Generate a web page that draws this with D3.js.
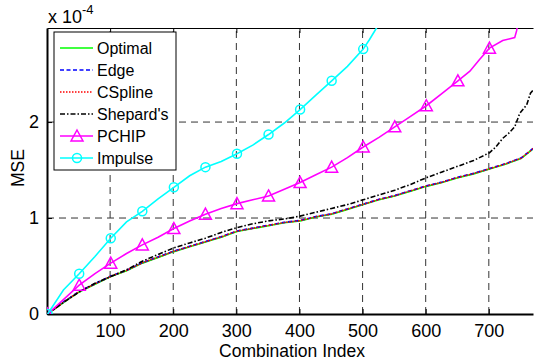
<!DOCTYPE html>
<html>
<head>
<meta charset="utf-8">
<script src="https://cdn.jsdelivr.net/npm/d3@7"></script>
<style>
  body { margin: 0; background: #fff; }
  text { font-family: "Liberation Sans", Arial, sans-serif; fill: #000; }
</style>
</head>
<body>
<div id="chart"></div>
<script>
// data (MSE in units of 1e-4)
const xTicks = [100, 200, 300, 400, 500, 600, 700];
const yTicks = [0, 1, 2];

const baseX = [1, 26, 51, 76, 101, 126, 151, 176, 201, 226, 251, 276, 301, 326, 351, 376, 401,
  426, 451, 476, 501, 526, 551, 576, 601, 626, 651, 676, 701, 726, 751, 770];
const optimalY = [0, 0.12, 0.23, 0.31, 0.39, 0.45, 0.53, 0.59, 0.65, 0.70, 0.75, 0.80, 0.86, 0.89, 0.92, 0.95, 0.97,
  1.01, 1.04, 1.09, 1.14, 1.19, 1.23, 1.28, 1.33, 1.37, 1.42, 1.46, 1.51, 1.56, 1.62, 1.72];
const edgeY = [0, 0.125, 0.235, 0.315, 0.395, 0.455, 0.535, 0.595, 0.655, 0.705, 0.755, 0.805, 0.865, 0.895, 0.925, 0.955, 0.975,
  1.015, 1.045, 1.095, 1.145, 1.195, 1.235, 1.285, 1.335, 1.375, 1.425, 1.465, 1.515, 1.565, 1.625, 1.725];
const csplineY = [0, 0.122, 0.233, 0.313, 0.393, 0.453, 0.533, 0.593, 0.653, 0.703, 0.753, 0.803, 0.863, 0.893, 0.923, 0.953, 0.973,
  1.013, 1.043, 1.093, 1.143, 1.193, 1.233, 1.283, 1.333, 1.373, 1.423, 1.463, 1.513, 1.563, 1.623, 1.723];

const shepardX = [1, 26, 51, 76, 101, 126, 151, 176, 201, 226, 251, 276, 301, 326, 351, 376, 401,
  426, 451, 476, 501, 526, 551, 576, 601, 626, 651, 676, 701, 711, 722, 731, 741, 749, 760, 766, 770];
const shepardY = [0, 0.12, 0.23, 0.32, 0.39, 0.46, 0.55, 0.62, 0.69, 0.74, 0.79, 0.85, 0.90, 0.94, 0.97, 0.99, 1.02,
  1.06, 1.10, 1.14, 1.19, 1.24, 1.29, 1.35, 1.42, 1.48, 1.54, 1.60, 1.68, 1.74, 1.83, 1.88, 1.95, 2.09, 2.18, 2.30, 2.33];

const pchipX = [1, 26, 51, 76, 101, 126, 151, 176, 201, 226, 251, 276, 301, 326, 351, 376, 401,
  426, 451, 476, 501, 526, 551, 576, 601, 626, 651, 670, 685, 701, 722, 741, 744, 748];
const pchipY = [0, 0.15, 0.30, 0.42, 0.53, 0.63, 0.72, 0.80, 0.89, 0.97, 1.04, 1.10, 1.15, 1.19, 1.23, 1.30, 1.37,
  1.45, 1.53, 1.63, 1.74, 1.84, 1.95, 2.06, 2.17, 2.30, 2.43, 2.53, 2.65, 2.77, 2.85, 2.88, 2.95, 3.10];

const impulseX = [1, 26, 51, 76, 101, 126, 151, 176, 201, 226, 251, 276, 301, 326, 351, 376, 401,
  426, 451, 476, 501, 511, 522, 535];
const impulseY = [0, 0.25, 0.42, 0.60, 0.79, 0.96, 1.07, 1.20, 1.32, 1.44, 1.53, 1.59, 1.67, 1.76, 1.87, 1.99, 2.13,
  2.28, 2.43, 2.58, 2.76, 2.86, 2.98, 3.15];

const width = 534;
const height = 364;

const svg = d3.select('#chart')
  .append('svg')
  .attr('width', width)
  .attr('height', height);

// scales
const x = d3.scaleLinear().domain([0, 770]).range([47, 533]);
const y = d3.scaleLinear().domain([0, 2.98]).range([314, 28]);

// clip for data
svg.append('clipPath').attr('id', 'plotClip')
  .append('rect')
  .attr('x', x(0)).attr('y', y(2.98))
  .attr('width', x(770) - x(0)).attr('height', y(0) - y(2.98));

// grid
const grid = svg.append('g').classed('grid', true);
grid.selectAll('.vg').data(xTicks).enter().append('line')
  .attr('x1', d => x(d)).attr('x2', d => x(d))
  .attr('y1', y(0)).attr('y2', y(2.98))
  .attr('stroke', '#333').attr('stroke-width', 1).attr('stroke-dasharray', '7,5');
grid.selectAll('.hg').data(yTicks.filter(d => d > 0)).enter().append('line')
  .attr('x1', x(0)).attr('x2', x(770))
  .attr('y1', d => y(d)).attr('y2', d => y(d))
  .attr('stroke', '#333').attr('stroke-width', 1).attr('stroke-dasharray', '7,5');

// axes
const xAxis = d3.axisBottom(x).tickValues(xTicks).tickSizeInner(-5).tickSizeOuter(0).tickPadding(10);
const xAxisGroup = svg.append('g')
  .attr('transform', `translate(0,${y(0)})`)
  .call(xAxis);
xAxisGroup.select('.domain').attr('stroke-width', 2);
xAxisGroup.selectAll('text').style('font-size', '18px').attr('dy', '0.7em');

const xTop = d3.axisTop(x).tickValues(xTicks).tickSizeInner(-5).tickSizeOuter(0).tickFormat('');
const xTopGroup = svg.append('g')
  .attr('transform', `translate(0,${y(2.98)})`)
  .call(xTop);
xTopGroup.select('.domain').attr('stroke-width', 1);

const yAxis = d3.axisLeft(y).tickValues(yTicks).tickFormat(d3.format('d'))
  .tickSizeInner(-5).tickSizeOuter(0).tickPadding(8);
const yAxisGroup = svg.append('g')
  .attr('transform', `translate(${x(0)},0)`)
  .call(yAxis);
yAxisGroup.select('.domain').attr('stroke-width', 2);
yAxisGroup.selectAll('text').style('font-size', '18px');

// exponent label
const expo = svg.append('text').attr('x', 48).attr('y', 23).style('font-size', '18px');
expo.append('tspan').text('x 10');
expo.append('tspan').attr('dy', -9).style('font-size', '13px').text('-4');

// axis titles
svg.append('text')
  .attr('x', 292).attr('y', 357)
  .attr('text-anchor', 'middle')
  .style('font-size', '17.5px')
  .text('Combination Index');
svg.append('text')
  .attr('transform', 'translate(24,168) rotate(-90)')
  .attr('text-anchor', 'middle')
  .style('font-size', '17.5px')
  .text('MSE');

// series
const series = [
  { name: 'Optimal', xs: baseX, ys: optimalY, color: '#00ff00', dash: null, marker: null },
  { name: 'Edge', xs: baseX, ys: edgeY, color: '#0000ff', dash: '4,2.5', marker: null },
  { name: 'CSpline', xs: baseX, ys: csplineY, color: '#ff0000', dash: '1.5,1.5', marker: null },
  { name: "Shepard's", xs: shepardX, ys: shepardY, color: '#000000', dash: '5,2,1.5,2', marker: null },
  { name: 'PCHIP', xs: pchipX, ys: pchipY, color: '#ff00ff', dash: null, marker: 'triangle' },
  { name: 'Impulse', xs: impulseX, ys: impulseY, color: '#00ffff', dash: null, marker: 'circle' }
];

const line = d3.line().x(d => x(d[0])).y(d => y(d[1]));
const plotGroup = svg.append('g').attr('clip-path', 'url(#plotClip)');

function drawMarker(g, type, color) {
  if (type === 'triangle') {
    g.append('path').attr('d', 'M0,-6L6,5L-6,5Z')
      .attr('fill', 'none').attr('stroke', color).attr('stroke-width', 1.5);
  } else if (type === 'circle') {
    g.append('circle').attr('r', 4.5)
      .attr('fill', 'none').attr('stroke', color).attr('stroke-width', 1.5);
  }
}

series.forEach(s => {
  const pts = s.xs.map((v, i) => [v, s.ys[i]]);
  plotGroup.append('path')
    .datum(pts)
    .attr('d', line)
    .attr('fill', 'none')
    .attr('stroke', s.color)
    .attr('stroke-width', 1.6)
    .attr('stroke-dasharray', s.dash);
  if (s.marker) {
    pts.filter(p => (p[0] - 1) % 50 === 0).forEach(p => {
      const g = plotGroup.append('g').attr('transform', `translate(${x(p[0])},${y(p[1])})`);
      drawMarker(g, s.marker, s.color);
    });
  }
});

// legend
const legend = svg.append('g');
legend.append('rect')
  .attr('x', 54).attr('y', 32).attr('width', 122).attr('height', 138)
  .attr('fill', '#fff').attr('stroke', '#000').attr('stroke-width', 1);
series.forEach((s, i) => {
  const ly = 48 + i * 22;
  legend.append('line')
    .attr('x1', 60).attr('x2', 93).attr('y1', ly).attr('y2', ly)
    .attr('stroke', s.color).attr('stroke-width', 1.6)
    .attr('stroke-dasharray', s.dash);
  if (s.marker) {
    const g = legend.append('g').attr('transform', `translate(77,${ly})`);
    drawMarker(g, s.marker, s.color);
  }
  legend.append('text')
    .attr('x', 97).attr('y', ly).attr('dy', '0.36em')
    .style('font-size', '16px')
    .text(s.name);
});
</script>
</body>
</html>
